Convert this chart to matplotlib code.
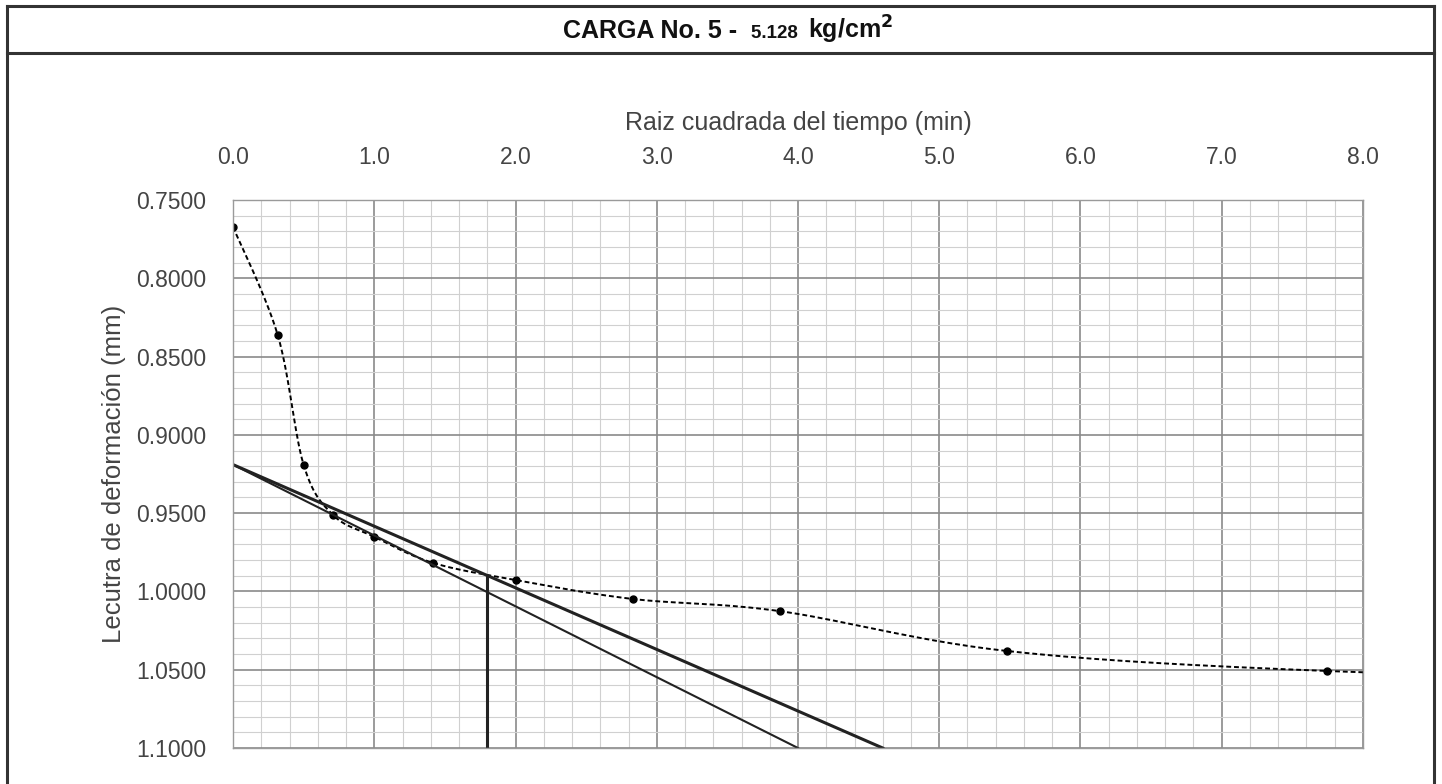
import numpy as np
import matplotlib
matplotlib.use("Agg")
import matplotlib.pyplot as plt
from matplotlib.lines import Line2D
from matplotlib.offsetbox import TextArea, HPacker, AnnotationBbox

plt.rcParams['font.family'] = ['Liberation Sans', 'DejaVu Sans']

# --- Data ---
tiempo_min = [0, 0.1, 0.25, 0.5, 1, 2, 4, 8, 15, 30, 60, 120]
lectura_mm = [0.7672, 0.8362, 0.9192, 0.9511, 0.9651, 0.9817, 0.9927,
              1.0048, 1.0126, 1.0380, 1.0508, 1.0580]

# construction lines (Taylor method): start ordinate and abscissas at y = 1.10
linea_y0 = 0.919
linea_fin_x = [4.0, 4.6]
linea_fin_y = 1.10
t90_raiz = 1.80

x_ticks = [0.0, 1.0, 2.0, 3.0, 4.0, 5.0, 6.0, 7.0, 8.0]
y_ticks = [0.75, 0.80, 0.85, 0.90, 0.95, 1.00, 1.05, 1.10]


# --- Excel-like smoothed line (Catmull-Rom through the points) ---
def smooth_line(xs, ys, n=30):
    xs = np.asarray(xs, float)
    ys = np.asarray(ys, float)
    px = np.concatenate([[xs[0]], xs, [xs[-1]]])
    py = np.concatenate([[ys[0]], ys, [ys[-1]]])
    out_x, out_y = [], []
    s = np.linspace(0, 1, n)
    for i in range(1, len(px) - 2):
        p0, p1, p2, p3 = [np.array([px[j], py[j]]) for j in (i - 1, i, i + 1, i + 2)]
        c1 = p1 + (p2 - p0) / 6.0
        c2 = p2 - (p3 - p1) / 6.0
        b = ((1 - s) ** 3)[:, None] * p1 + (3 * (1 - s) ** 2 * s)[:, None] * c1 \
            + (3 * (1 - s) * s ** 2)[:, None] * c2 + (s ** 3)[:, None] * p2
        out_x.extend(b[:, 0])
        out_y.extend(b[:, 1])
    return np.array(out_x), np.array(out_y)


raiz_t = np.sqrt(tiempo_min)

fig = plt.figure(figsize=(14.42, 7.84), dpi=100)
ax = fig.add_axes([0.1616, 0.0459, 0.7836, 0.6990])

# grid
ax.set_xlim(0, 8)
ax.set_ylim(1.10, 0.75)
ax.set_xticks(x_ticks)
ax.set_xticks(np.arange(0, 8.001, 0.2), minor=True)
ax.set_yticks(y_ticks)
ax.set_yticks(np.arange(0.75, 1.1001, 0.01), minor=True)
ax.grid(which='major', color='#8a8a8a', linewidth=1.2)
ax.grid(which='minor', color='#d0d0d0', linewidth=0.8)
ax.set_axisbelow(True)
for sp in ax.spines.values():
    sp.set_color('#9a9a9a')
    sp.set_linewidth(1.0)

ax.xaxis.tick_top()
ax.xaxis.set_label_position('top')
ax.set_xticklabels([f"{v:.1f}" for v in x_ticks])
ax.set_yticklabels([f"{v:.4f}" for v in y_ticks])
ax.tick_params(which='both', length=0)
ax.tick_params(axis='x', pad=22, labelsize=16.5, labelcolor='#444444')
ax.tick_params(axis='y', pad=19.5, labelsize=16.5, labelcolor='#444444')
ax.set_xlabel("Raiz cuadrada del tiempo (min)", fontsize=18, color='#444444', labelpad=12)
ax.set_ylabel("Lecutra de deformación (mm)", fontsize=18.5, color='#444444', labelpad=7)

# curve
sx, sy = smooth_line(raiz_t, lectura_mm)
ax.plot(sx, sy, color='black', linestyle=(0, (2.5, 1.5)), linewidth=1.4, clip_on=True)
ax.plot(raiz_t, lectura_mm, linestyle='none', marker='o', markersize=5, color='black')

# construction lines
ax.plot([0, linea_fin_x[0]], [linea_y0, linea_fin_y], color='#222222', linewidth=1.5)
ax.plot([0, linea_fin_x[1]], [linea_y0, linea_fin_y], color='#222222', linewidth=2.2)
y_cruce = linea_y0 + (linea_fin_y - linea_y0) / linea_fin_x[1] * t90_raiz
ax.plot([t90_raiz, t90_raiz], [linea_fin_y, y_cruce], color='#222222', linewidth=2.2)

# frame and title row
border = dict(color='#333333', linewidth=2.2, transform=fig.transFigure)
fig.add_artist(Line2D([0.0049, 0.0049], [0.0, 0.9923], **border))
fig.add_artist(Line2D([0.9945, 0.9945], [0.0, 0.9923], **border))
fig.add_artist(Line2D([0.0049, 0.9945], [0.9923, 0.9923], **border))
fig.add_artist(Line2D([0.0049, 0.9945], [0.9324, 0.9324], **border))

parts = [
    TextArea("CARGA No. 5 -  ", textprops=dict(fontsize=18, fontweight='bold', color='#111111')),
    TextArea("5.128  ", textprops=dict(fontsize=13.5, fontweight='bold', color='#111111')),
    TextArea(r"kg/cm$^{\mathbf{2}}$", textprops=dict(fontsize=18, fontweight='bold', color='#111111')),
]
title = HPacker(children=parts, align='baseline', pad=0, sep=0)
fig.add_artist(AnnotationBbox(title, (0.505, 0.962), xycoords='figure fraction',
                              frameon=False, box_alignment=(0.5, 0.5)))

fig.savefig("out.png", dpi=100)
